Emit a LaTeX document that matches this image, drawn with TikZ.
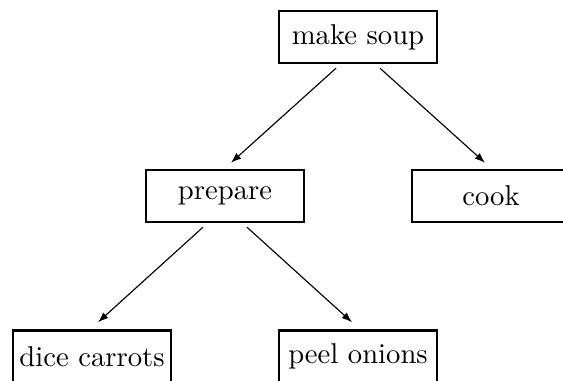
\documentclass[tikz,border=0pt]{standalone}
\usetikzlibrary{arrows.meta,calc}
\begin{document}
\begin{tikzpicture}[x=0.349pt,y=-0.349pt,
  task/.style={draw,line width=0.9pt,minimum width=55.1pt,minimum height=18.1pt,inner sep=0pt},
  arr/.style={-{Latex[length=3.6pt,width=2.6pt]},line width=0.4pt}]
\useasboundingbox (0,0) rectangle (563,381);
% task tree
\node[task] (ms) at (358,37)  {make soup};
\node[task] (pr) at (225,196) {prepare};
\node[task] (ck) at (491,196) {cook};
\node[task] (dc) at (92,356.5)  {dice carrots};
\node[task] (po) at (358,356.5) {peel onions};
% parent -> child arrows
\draw[arr] ($(ms.south)+(-22,4)$) -- ($(pr.north)+(6,-6)$);
\draw[arr] ($(ms.south)+(22,4)$)  -- ($(ck.north)+(-6,-6)$);
\draw[arr] ($(pr.south)+(-22,4)$) -- ($(dc.north)+(6,-7)$);
\draw[arr] ($(pr.south)+(22,4)$)  -- ($(po.north)+(-6,-7)$);
\end{tikzpicture}
\end{document}
